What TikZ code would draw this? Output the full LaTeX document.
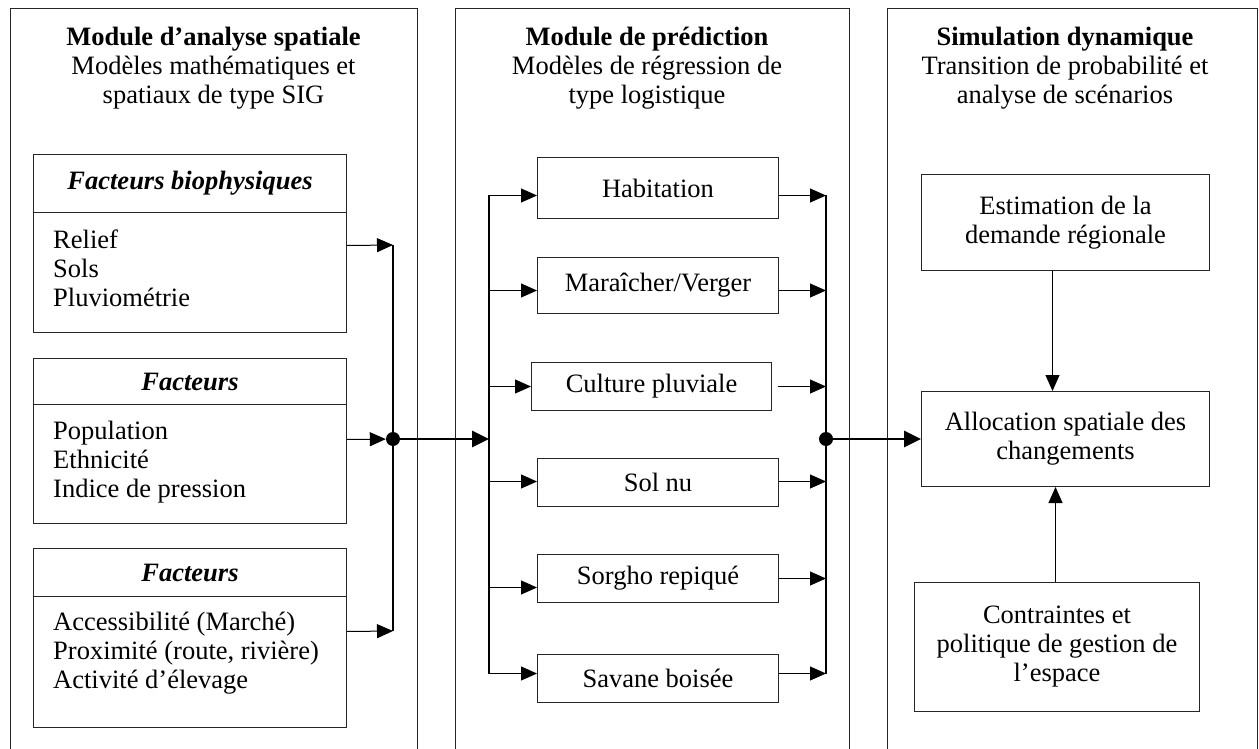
\documentclass[tikz,border=0pt]{standalone}
\usepackage{fontspec}
\setmainfont{Liberation Serif}
\usetikzlibrary{arrows.meta,calc}
\begin{document}
\begin{tikzpicture}[x=1pt,y=-1pt,
  every node/.style={font=\fontsize{26.5}{29}\selectfont, inner sep=0pt},
  panel/.style={line width=1pt, draw=black!85},
  box/.style={draw=black!85, line width=1pt, anchor=north west, align=center},
  arr/.style={line width=1pt, -{Triangle[length=16pt,width=14pt]}},
  bigarr/.style={line width=2.8pt, -{Triangle[length=17pt,width=16pt]}},
  bus/.style={line width=1.5pt},
  dotnode/.style={circle, fill=black, minimum size=14pt, inner sep=0pt},
]
\useasboundingbox (0,0) rectangle (1259,749);

% panels
\draw[panel] (10,760) -- (10,9) -- (417,9) -- (417,760);
\draw[panel] (455,760) -- (455,9) -- (849,9) -- (849,760);
\draw[panel] (887,760) -- (887,9) -- (1257,9) -- (1257,760);

% titles
\node[align=center] (t1) at (213.5,68.5) {\textbf{Module d’analyse spatiale}\\Modèles mathématiques et\\spatiaux de type SIG};
\node[align=center] (t2) at (647,68.5) {\textbf{Module de prédiction}\\Modèles de régression de\\type logistique};
\node[align=center] (t3) at (1065,68.5) {\textbf{Simulation dynamique}\\Transition de probabilité et\\analyse de scénarios};

% left boxes
\node[box, minimum width=313pt, minimum height=58pt] (h1) at (33,154) {\textbf{\itshape Facteurs biophysiques}};
\node[box, minimum width=313pt, minimum height=120pt] (b1) at (33,212) {};
\node[anchor=west, align=left] (l1) at (53,268.5) {Relief\\Sols\\Pluviométrie};

\node[box, minimum width=313pt, minimum height=46pt] (h2) at (33,358) {\textbf{\itshape Facteurs}};
\node[box, minimum width=313pt, minimum height=119pt] (b2) at (33,404) {};
\node[anchor=west, align=left] (l2) at (53,462.5) {Population\\Ethnicité\\Indice de pression};

\node[box, minimum width=313pt, minimum height=48pt] (h3) at (33,548) {\textbf{\itshape Facteurs}};
\node[box, minimum width=313pt, minimum height=131pt] (b3) at (33,596) {};
\node[anchor=west, align=left] (l3) at (53,653.5) {Accessibilité (Marché)\\Proximité (route, rivière)\\Activité d’élevage};

% left bus
\coordinate (busA) at (393,245);
\coordinate (busB) at (393,631);
\draw[bus] (busA) -- (busB);
\node[dotnode] (dotL) at (393,439) {};
\draw[arr] ([yshift=27pt]b1.east) -- (busA);
\draw[arr] ([yshift=24.5pt]b2.east) -- (dotL);
\draw[arr] ([yshift=30.5pt]b3.east) -- (busB);

% middle boxes
\node[box, minimum width=241pt, minimum height=61pt] (hab) at (537,157) {Habitation};
\node[box, minimum width=241pt, minimum height=56pt] (mar) at (537,257) {Maraîcher/Verger};
\node[box, minimum width=240pt, minimum height=48pt] (cul) at (531,362) {Culture pluviale};
\node[box, minimum width=241pt, minimum height=48pt] (sol) at (537,458) {Sol nu};
\node[box, minimum width=241pt, minimum height=48pt] (sor) at (537,554) {Sorgho repiqué};
\node[box, minimum width=241pt, minimum height=48pt] (sav) at (537,654) {Savane boisée};

\coordinate (mL) at (489,0);
\coordinate (mR) at (826,0);

\coordinate (habIn) at ([yshift=-7.5pt]hab.west);
\coordinate (habOut) at ([yshift=-7.5pt]hab.east);
\coordinate (marIn) at ([yshift=-5pt]mar.west);
\coordinate (marOut) at ([yshift=-5pt]mar.east);
\coordinate (culIn) at (cul.west);
\coordinate (culOut) at ([xshift=6pt]cul.east);
\coordinate (solIn) at ([yshift=1pt]sol.west);
\coordinate (solOut) at ([yshift=1pt]sol.east);
\coordinate (sorIn) at ([yshift=-9pt]sor.west);
\coordinate (sorOut) at (sor.east);
\coordinate (savIn) at ([yshift=5pt]sav.west);
\coordinate (savOut) at ([yshift=5pt]sav.east);

\draw[bus] (habIn -| mL) -- (savIn -| mL);
\draw[bus] (habOut -| mR) -- (savOut -| mR);

\foreach \b in {hab,mar,cul,sol,sor,sav}{
  \draw[arr] (\b In -| mL) -- (\b In);
  \draw[arr] (\b Out) -- (\b Out -| mR);
}

\coordinate (mIn) at (489,439);
\draw[bigarr] (dotL) -- (mIn);
\node[dotnode] (dotR) at (826,439) {};

% right panel
\node[box, minimum width=288pt, minimum height=96pt] (est) at (921,174) {Estimation de la\\demande régionale};
\node[box, minimum width=288pt, minimum height=95pt] (alloc) at (921,391) {Allocation spatiale des\\changements};
\node[box, minimum width=285pt, minimum height=129pt] (con) at (914,582) {Contraintes et\\politique de gestion de\\l’espace};

\draw[bigarr] (dotR) -- (dotR -| alloc.west);
\draw[arr] ([xshift=-13pt]est.south) -- ([xshift=-13pt]alloc.north);
\draw[arr] ([xshift=-1.5pt]con.north) -- ([xshift=-10pt]alloc.south);
\end{tikzpicture}
\end{document}
